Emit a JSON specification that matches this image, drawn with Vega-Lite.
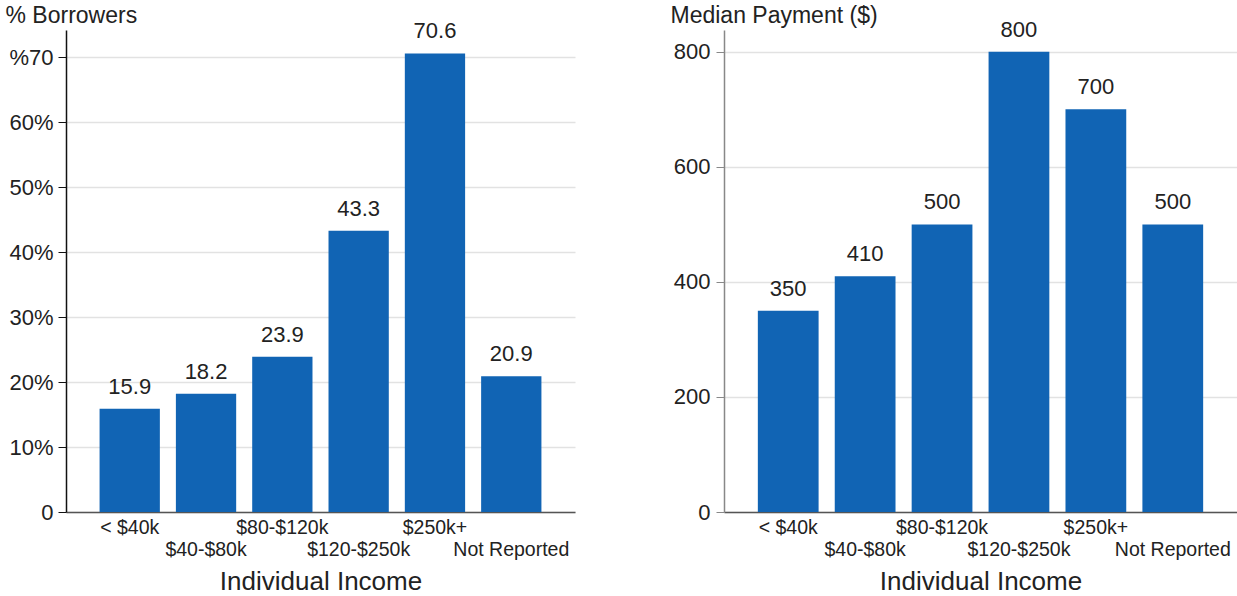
{
  "$schema": "https://vega.github.io/schema/vega-lite/v6.json",
  "padding": {"left": 5, "top": 4, "right": 0, "bottom": 0},
  "bounds": "flush",
  "spacing": 149,
  "config": {
    "font": "Liberation Sans",
    "view": {"stroke": null},
    "axis": {
      "labelColor": "#222222",
      "titleColor": "#222222",
      "titleFontWeight": "normal",
      "labelFontSize": 22,
      "titleFontSize": 23
    },
    "axisX": {
      "labelAngle": 0,
      "ticks": false,
      "domainColor": "#555555",
      "domainWidth": 1.5,
      "labelFontSize": 19.5,
      "labelPadding": 6,
      "labelLineHeight": 22,
      "labelOverlap": false,
      "labelBound": false,
      "labelExpr": "(datum.label == '$40-$80k' || datum.label == '$120-$250k' || datum.label == 'Not Reported') ? ['', datum.label] : datum.label",
      "titleFontSize": 26,
      "titlePadding": 10,
      "grid": false
    },
    "axisY": {
      "grid": true,
      "gridColor": "#e2e2e2",
      "gridWidth": 1.5,
      "tickSize": 8,
      "labelPadding": 5,
      "titleAngle": 0,
      "titleAlign": "left",
      "titleBaseline": "alphabetic",
      "titleY": -8
    }
  },
  "hconcat": [
    {
      "width": 509,
      "height": 482,
      "data": {
        "values": [
          {"income": "< $40k", "pct": 15.9},
          {"income": "$40-$80k", "pct": 18.2},
          {"income": "$80-$120k", "pct": 23.9},
          {"income": "$120-$250k", "pct": 43.3},
          {"income": "$250k+", "pct": 70.6},
          {"income": "Not Reported", "pct": 20.9}
        ]
      },
      "encoding": {
        "x": {
          "field": "income",
          "type": "nominal",
          "sort": null,
          "scale": {"paddingInner": 0.21, "paddingOuter": 0.44},
          "axis": {"title": "Individual Income"}
        },
        "y": {
          "field": "pct",
          "type": "quantitative",
          "scale": {"domain": [0, 74.2], "nice": false},
          "axis": {
            "title": "% Borrowers",
            "titleX": -61,
            "values": [0, 10, 20, 30, 40, 50, 60, 70],
            "labelExpr": "datum.value == 0 ? '0' : (datum.value == 70 ? '%70' : datum.value + '%')",
            "domainColor": "#111111",
            "tickColor": "#111111",
            "domainWidth": 1.5
          }
        }
      },
      "layer": [
        {"mark": {"type": "bar", "color": "#1164b4"}},
        {
          "mark": {"type": "text", "dy": -15, "baseline": "alphabetic", "fontSize": 22, "color": "#222222"},
          "encoding": {"text": {"field": "pct", "type": "quantitative", "format": ".1f"}}
        }
      ]
    },
    {
      "width": 513,
      "height": 482,
      "data": {
        "values": [
          {"income": "< $40k", "payment": 350},
          {"income": "$40-$80k", "payment": 410},
          {"income": "$80-$120k", "payment": 500},
          {"income": "$120-$250k", "payment": 800},
          {"income": "$250k+", "payment": 700},
          {"income": "Not Reported", "payment": 500}
        ]
      },
      "encoding": {
        "x": {
          "field": "income",
          "type": "nominal",
          "sort": null,
          "scale": {"paddingInner": 0.21, "paddingOuter": 0.44},
          "axis": {"title": "Individual Income"}
        },
        "y": {
          "field": "payment",
          "type": "quantitative",
          "scale": {"domain": [0, 838], "nice": false},
          "axis": {
            "title": "Median Payment ($)",
            "titleX": -54,
            "values": [0, 200, 400, 600, 800],
            "domainColor": "#888888",
            "tickColor": "#888888",
            "domainWidth": 1.5,
            "labelPadding": 6
          }
        }
      },
      "layer": [
        {"mark": {"type": "bar", "color": "#1164b4"}},
        {
          "mark": {"type": "text", "dy": -15, "baseline": "alphabetic", "fontSize": 22, "color": "#222222"},
          "encoding": {"text": {"field": "payment", "type": "quantitative", "format": "d"}}
        }
      ]
    }
  ]
}
